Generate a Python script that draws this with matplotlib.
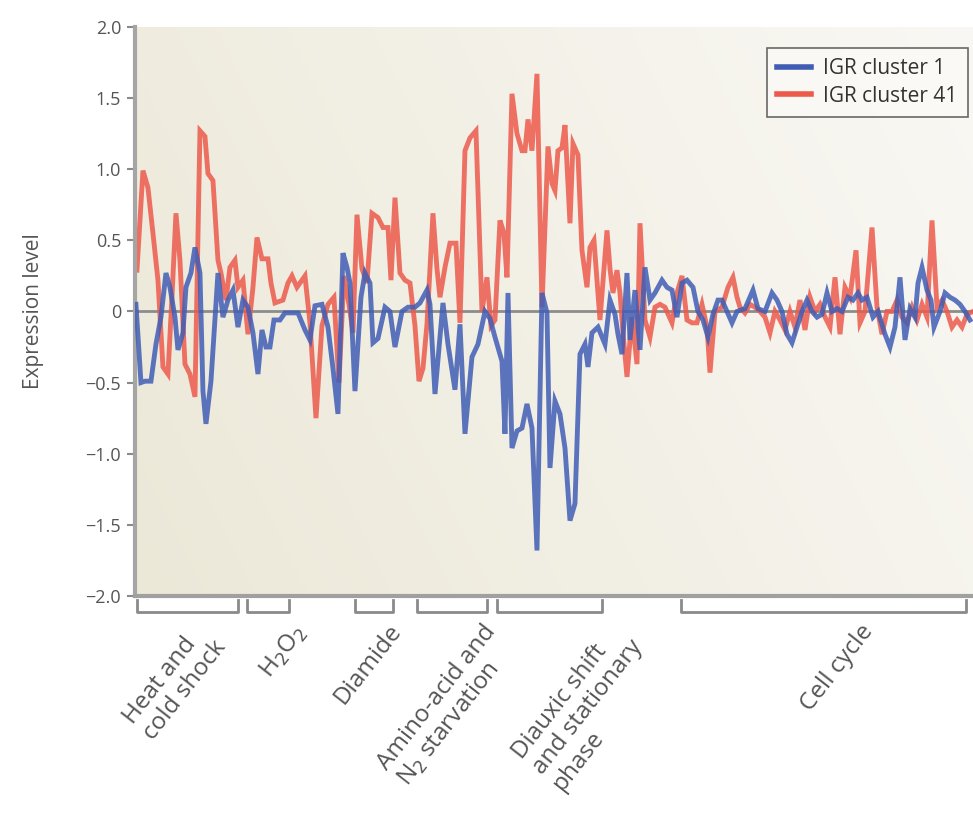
import numpy as np
import matplotlib
matplotlib.use("Agg")
import matplotlib.pyplot as plt
from matplotlib.colors import to_rgb

red_pos = [2, 8, 13, 18, 23, 28, 33, 37, 41, 45, 50, 55, 60, 65, 70, 73, 78, 83, 86, 91,
           95, 100, 103, 108, 113, 118, 122, 127, 133, 136, 140, 148, 153, 157, 162, 170,
           175, 181, 187, 193, 199, 204, 209, 214, 218, 222, 227, 232, 237, 243, 248, 253,
           256, 260, 265, 270, 275, 280, 284, 288, 292, 298, 302, 305, 310, 315, 321, 325,
           330, 335, 341, 347, 352, 356, 360, 365, 369, 372, 377, 382, 387, 390, 393, 397,
           402, 407, 413, 417, 420, 423, 427, 430, 435, 438, 443, 447, 452, 455, 459, 465,
           472, 475, 478, 482, 485, 488, 492, 497, 502, 505, 510, 515, 520, 525, 530, 537,
           542, 547, 552, 557, 562, 567, 572, 575, 580, 587, 593, 598, 602, 605, 610, 615,
           620, 625, 630, 635, 640, 645, 650, 655, 660, 665, 670, 675, 680, 685, 690, 695,
           700, 705, 710, 715, 721, 725, 730, 737, 742, 747, 752, 757, 762, 767, 772, 777,
           782, 787, 792, 797, 802, 807, 812, 817, 822, 827, 832, 838]
red_val = [0.29, 0.99, 0.87, 0.55, 0.22, -0.39, -0.44, 0.10, 0.69, 0.36, -0.37, -0.44, -0.60,
           1.27, 1.23, 0.97, 0.92, 0.36, 0.27, 0.08, 0.31, 0.36, 0.17, 0.22, -0.16, 0.17,
           0.52, 0.37, 0.37, 0.20, 0.06, 0.08, 0.20, 0.25, 0.17, 0.25, -0.08, -0.75, -0.10,
           0.05, 0.10, -0.50, 0.25, 0.05, -0.15, 0.68, 0.30, 0.20, 0.69, 0.66, 0.59, 0.59,
           0.22, 0.80, 0.27, 0.22, 0.20, -0.10, -0.49, -0.40, -0.09, 0.69, 0.30, 0.10, 0.31,
           0.48, 0.48, -0.08, 1.13, 1.22, 1.27, 0.00, 0.24, -0.10, -0.06, 0.64, 0.55, 0.24,
           1.53, 1.25, 1.13, 1.13, 1.35, 1.13, 1.67, 0.03, 1.16, 0.90, 0.85, 1.13, 1.15, 1.31,
           0.62, 1.18, 1.10, 0.43, 0.17, 0.45, 0.50, -0.06, 0.57, 0.30, 0.13, 0.29, 0.13,
           -0.15, -0.46, -0.04, -0.37, 0.62, -0.06, -0.18, 0.03, 0.05, 0.03, -0.08, 0.13, 0.25,
           -0.06, -0.08, -0.08, 0.05, -0.11, -0.43, 0.00, 0.03, 0.17, 0.24, 0.10, 0.03, -0.01,
           0.05, 0.03, 0.00, -0.04, -0.15, 0.00, -0.06, -0.13, 0.00, -0.11, 0.08, -0.13, 0.10,
           0.00, 0.05, -0.04, -0.11, 0.24, -0.16, 0.17, 0.10, 0.43, -0.08, 0.00, 0.59, 0.03,
           -0.16, 0.00, 0.00, 0.08, -0.04, -0.08, 0.03, -0.06, 0.05, -0.04, 0.64, 0.03, 0.08,
           0.00, -0.11, -0.06, -0.11, -0.02, 0.00]

blue_pos = [1, 6, 10, 16, 21, 26, 31, 35, 40, 43, 48, 51, 56, 60, 65, 68, 71, 76, 83, 88,
            93, 98, 103, 108, 113, 118, 123, 127, 131, 135, 139, 145, 150, 157, 163, 170,
            175, 180, 187, 193, 198, 203, 208, 212, 215, 220, 226, 230, 235, 238, 243, 250,
            255, 260, 267, 273, 280, 285, 292, 295, 300, 308, 313, 320, 325, 330, 337, 343,
            350, 355, 360, 367, 370, 373, 377, 382, 387, 392, 397, 402, 407, 412, 415, 420,
            425, 430, 435, 440, 445, 450, 453, 457, 463, 470, 475, 480, 483, 487, 492, 495,
            500, 505, 510, 515, 520, 527, 532, 537, 542, 547, 552, 558, 563, 568, 573, 578,
            583, 587, 592, 597, 602, 610, 618, 623, 630, 637, 642, 647, 652, 657, 662, 667,
            672, 677, 682, 687, 692, 697, 702, 707, 713, 718, 723, 727, 732, 738, 743, 750,
            755, 760, 765, 770, 775, 780, 783, 787, 792, 796, 799, 805, 810, 815, 820, 825,
            830, 835]
blue_val = [0.05, -0.50, -0.49, -0.49, -0.23, -0.04, 0.27, 0.17, -0.04, -0.27, -0.15, 0.17,
            0.27, 0.45, 0.27, -0.56, -0.79, -0.49, 0.27, -0.04, 0.08, 0.15, -0.11, 0.08, 0.03,
            -0.15, -0.44, -0.13, -0.25, -0.25, -0.06, -0.06, -0.01, -0.01, -0.01, -0.13, -0.20,
            0.04, 0.05, -0.11, -0.40, -0.72, 0.41, 0.31, 0.20, -0.56, 0.10, 0.27, 0.20, -0.22,
            -0.19, 0.03, 0.00, -0.25, 0.00, 0.03, 0.03, 0.06, 0.15, 0.05, -0.58, 0.06, -0.23,
            -0.55, -0.09, -0.86, -0.32, -0.23, 0.00, -0.05, -0.18, -0.35, -0.86, 0.13, -0.96,
            -0.84, -0.82, -0.65, -0.82, -1.68, 0.13, -0.01, -1.10, -0.63, -0.72, -0.96, -1.47,
            -1.35, -0.30, -0.23, -0.39, -0.15, -0.11, -0.23, 0.08, -0.02, -0.16, -0.30, 0.27,
            -0.20, 0.15, -0.27, 0.31, 0.08, 0.13, 0.22, 0.17, 0.15, -0.04, 0.20, 0.22, 0.17,
            0.00, -0.06, -0.18, -0.02, 0.08, 0.08, 0.00, -0.08, 0.00, 0.02, 0.15, 0.02, 0.00,
            0.13, 0.08, 0.00, -0.16, -0.22, -0.11, 0.00, 0.08, 0.00, -0.04, -0.02, 0.13, 0.00,
            0.02, 0.00, 0.10, 0.08, 0.13, 0.08, 0.10, -0.04, 0.00, -0.16, -0.25, -0.11, 0.24,
            -0.20, 0.02, -0.04, 0.20, 0.31, 0.15, 0.08, -0.11, 0.00, 0.13, 0.10, 0.08, 0.05,
            0.00, -0.06]

# condition groups: label, first and last array position
groups = ["Heat and\ncold shock", "H$_2$O$_2$", "Diamide",
          "Amino-acid and\nN$_2$ starvation", "Diauxic shift\nand stationary\nphase",
          "Cell cycle"]
group_start = [2, 112, 220, 282, 362, 546]
group_end = [103, 154, 258, 352, 467, 831]
label_anchor = [57, 157, 253, 347, 473, 725]

y_ticks = [2.0, 1.5, 1.0, 0.5, 0, -0.5, -1.0, -1.5, -2.0]
y_ticklabels = ["2.0", "1.5", "1.0", "0.5", "0", "\u22120.5", "\u22121.0", "\u22121.5", "\u22122.0"]

plt.rcParams['font.family'] = ['Open Sans', 'DejaVu Sans']

red = '#ec5a4c'
blue = '#3f5db5'
text_gray = '#555555'

fig = plt.figure(figsize=(9.73, 8.13), dpi=100, facecolor='white')
ax = fig.add_axes([0.1387, 0.2669, 0.8613, 0.700])

# beige-to-white background of the plot area
c0 = np.array(to_rgb('#ece8d8'))
c1 = np.array(to_rgb('#f9f8f4'))
gx, gy = np.meshgrid(np.linspace(0, 1, 200), np.linspace(0, 1, 200))
t = np.clip(0.75 * gx + 0.25 * gy, 0, 1)
bg = c0[None, None, :] * (1 - t[..., None]) + c1[None, None, :] * t[..., None]
ax.imshow(bg, extent=[0, 1, 0, 1], transform=ax.transAxes, aspect='auto',
          origin='lower', zorder=0)

ax.axhline(0, color='#8c8c8c', lw=2, zorder=1)
ax.plot(red_pos, red_val, color=red, lw=3.5, alpha=0.85, zorder=2,
        solid_joinstyle='miter', label='IGR cluster 41')
ax.plot(blue_pos, blue_val, color=blue, lw=3.5, alpha=0.85, zorder=3,
        solid_joinstyle='miter', label='IGR cluster 1')

ax.set_xlim(0, 838)
ax.set_ylim(-2.0, 2.0)
ax.set_xticks([])
ax.set_yticks(y_ticks)
ax.set_yticklabels(y_ticklabels)
ax.tick_params(axis='y', direction='out', length=6, width=1.5, color='#8a8a8a',
               labelsize=13, labelcolor=text_gray, pad=4)
for s in ['top', 'right']:
    ax.spines[s].set_visible(False)
ax.spines['left'].set_color('#a5a5a5')
ax.spines['left'].set_linewidth(3)
ax.spines['bottom'].set_color('#a0a0a0')
ax.spines['bottom'].set_linewidth(3)
ax.set_ylabel('Expression level', fontsize=15, color=text_gray, labelpad=30)

# group brackets under the axis
xt = ax.get_xaxis_transform()
for lab, x0, x1, xa in zip(groups, group_start, group_end, label_anchor):
    ax.plot([x0, x0, x1, x1], [-0.007, -0.028, -0.028, -0.007], color='#8a8a8a',
            lw=2, transform=xt, clip_on=False)
    ax.text(xa, -0.042, lab, transform=xt, rotation=52, rotation_mode='anchor',
            ha='right', va='top', multialignment='left', fontsize=17.5,
            color=text_gray, linespacing=1.1)

h, l = ax.get_legend_handles_labels()
leg = ax.legend(h[::-1], l[::-1], loc='upper right', bbox_to_anchor=(0.994, 0.963),
                borderaxespad=0, fontsize=15, frameon=True, fancybox=False,
                handlelength=1.6, handletextpad=0.6, borderpad=0.5, labelspacing=0.3)
leg.get_frame().set_edgecolor('#444444')
leg.get_frame().set_linewidth(1.2)
leg.get_frame().set_facecolor('#fbfaf7')
for line in leg.get_lines():
    line.set_linewidth(4)
    line.set_alpha(1)
for txt in leg.get_texts():
    txt.set_color('#333333')

fig.savefig('out.png', dpi=100, facecolor='white')
